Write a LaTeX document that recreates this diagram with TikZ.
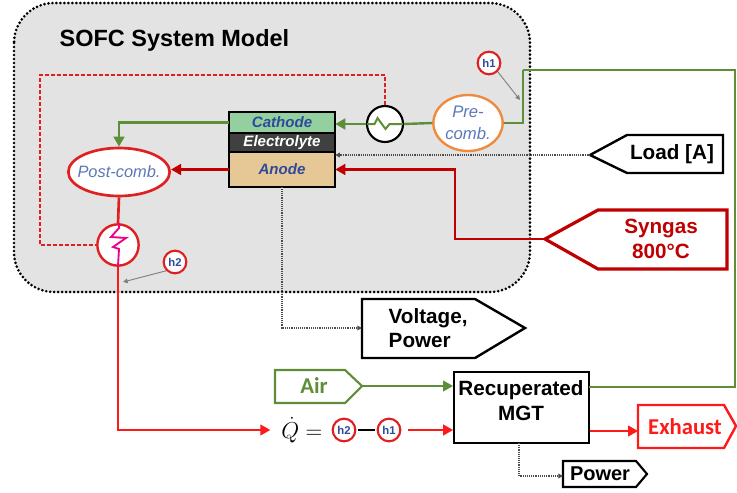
\documentclass[tikz,border=0pt]{standalone}
\usepackage{fontspec}
\setmainfont{Liberation Sans}
\newfontfamily\calib{Carlito}
\usetikzlibrary{arrows.meta,shapes.geometric}
\definecolor{sgreen}{HTML}{5E8F38}
\definecolor{dred}{HTML}{C00000}
\definecolor{bred}{HTML}{FF1A1A}
\definecolor{pred}{HTML}{E02020}
\definecolor{txtblue}{HTML}{2E4A9A}
\definecolor{ltblue}{HTML}{5A78B8}
\definecolor{sysgray}{HTML}{E3E3E3}
\definecolor{cathfill}{HTML}{93CF9F}
\definecolor{anodefill}{HTML}{E6C896}
\definecolor{elfill}{HTML}{404040}
\definecolor{orng}{HTML}{F08A3C}
\begin{document}
\begin{tikzpicture}[x=0.75pt,y=-0.75pt,
  font=\bfseries,
  tipA/.style={-{Triangle[length=7.5pt,width=8pt]}},
  tipS/.style={-{Triangle[length=3.5pt,width=3.5pt]}},
  grnline/.style={draw=sgreen,line width=1.8pt},
  grnthin/.style={draw=sgreen,line width=1.3pt},
  redline/.style={draw=dred,line width=2pt},
  brline/.style={draw=bred,line width=1.6pt},
  dotconn/.style={draw=black!70,line width=0.9pt,dash pattern=on 0.7pt off 0.7pt},
  gptr/.style={draw=black!50,line width=0.7pt,-{Triangle[length=3.5pt,width=3.5pt]}},
  hlab/.style={circle,draw=pred,line width=1.6pt,fill=white,inner sep=0pt,minimum size=17pt,
    font=\fontsize{8.5}{9}\selectfont\bfseries,text=txtblue},
  layer/.style={rectangle,minimum width=79.5pt,inner sep=0pt,
    font=\fontsize{11.3}{12}\selectfont\bfseries\itshape},
  boxtxt/.style={font=\fontsize{15.5}{18.5}\selectfont\bfseries,align=left}
]
\useasboundingbox (0,0) rectangle (737,492);
% system box
\draw[fill=sysgray,line width=2.2pt,line cap=round,dash pattern=on 0pt off 3pt,
  rounded corners=30pt] (14,3) rectangle (530,292);
\node[anchor=west,font=\fontsize{17.6}{20}\selectfont\bfseries] (title) at (55,40) {SOFC System Model};

% stack
\node[layer,fill=cathfill,minimum height=15.75pt,text=txtblue] (cath) at (282,122.5) {Cathode};
\node[layer,fill=elfill,minimum height=14.25pt,text=white] (elec) at (282,142.5) {Electrolyte};
\node[layer,fill=anodefill,minimum height=26.25pt,text=txtblue] (anode) at (282,169.5) {Anode};
\draw[line width=1.6pt] (cath.north west) rectangle (anode.south east);
\draw[line width=1.6pt] (cath.south west) -- (cath.south east);
\draw[line width=1.6pt] (elec.south west) -- (elec.south east);

% post-combustor
\node[ellipse,draw=pred,line width=2pt,fill=white,minimum width=76pt,minimum height=36pt,inner sep=0pt] (post) at (119,172) {};
\node[text=ltblue,font=\fontsize{12.3}{13}\selectfont\itshape] (postt) at (post.center) {Post-comb.};
% pre-combustor
\node[ellipse,draw=orng,line width=1.8pt,fill=white,minimum width=52pt,minimum height=42pt,inner sep=0pt] (pre) at (468,123) {};
\node[text=ltblue,align=center,inner sep=0pt,font=\fontsize{12.5}{16}\selectfont\itshape] (pret) at (pre.center) {Pre-\\comb.};

% heat exchangers
\node[circle,draw=black,line width=1.6pt,fill=white,minimum size=27pt,inner sep=0pt] (hx) at (385,124) {};
\node[circle,draw=pred,line width=1.8pt,fill=white,minimum size=31pt,inner sep=0pt] (hx2) at (118,245) {};

% red dashed loop
\draw[draw=pred,line width=1pt,dash pattern=on 3pt off 1.5pt] (hx.north) -- (385,75) -- (40,75) -- (40,245) -- (hx2.west);

% green flows
\coordinate (g1) at (523,70);
\coordinate (g2) at (735,70);
\coordinate (mgtG) at (589,387);
\draw[grnline] (pre.west) -- (hx.east);
\draw[grnline,tipA] (hx.west) -- (hx.west -| cath.east);
\draw[grnline,line width=1.5pt] ([xshift=-13.5pt]hx.center) -- ++(7.5,0) -- ++(3,-6) -- ++(8,11) -- ++(4,-5) -- ([xshift=13.5pt]hx.center);
\draw[grnline,tipA] (cath.west) -| (post.north);
\draw[grnline] (pre.east) -| (g1);
\draw[grnthin] (g1) -- (g2) |- (mgtG);

% red flows
\draw[redline,tipA] (anode.west) -- (anode.west -| post.east);
\draw[draw=pred,line width=2pt] (post.south) -- (hx2.north);
\draw[draw=magenta,line width=1.4pt] ([yshift=15.75pt]hx2.center) -- ++(1,0) -- ++(0,4) -- ++(-8,9) -- ++(15,1) -- ++(-13,9) -- ++(6,2) -- ([yshift=-15.75pt]hx2.center);

% h labels
\node[hlab] (h1a) at (489,63) {h1};
\coordinate (h1t) at (520,100);
\draw[gptr] (h1a.south east) -- (h1t);
\node[hlab] (h2a) at (175,262) {h2};
\coordinate (h2t) at (123,282);
\draw[gptr] (h2a.south west) -- (h2t);

% Load
\coordinate (loadtip) at (590,155);
\draw[line width=1.8pt,fill=white] (loadtip) -- (627,135) -- (723,135) -- (723,173) -- (627,173) -- cycle;
\node[boxtxt] (load) at (672,154) {Load [A]};
\draw[dotconn,tipS] (loadtip) -- (loadtip -| anode.east);

% Syngas
\coordinate (syntip) at (545,239);
\draw[draw=dred,line width=2.4pt,fill=white] (syntip) -- (598,210) -- (727,210) -- (727,269) -- (598,269) -- cycle;
\node[boxtxt,align=center,text=dred] (syn) at (661,239) {Syngas\\800°C};
\coordinate (sbend) at (455,239);
\draw[redline,tipA] (syntip) -- (sbend) |- (anode.east);

% Voltage
\coordinate (vleft) at (362,328);
\draw[line width=1.8pt,fill=white] (362,299) -- (475,299) -- (525,328) -- (475,358) -- (362,358) -- cycle;
\node[boxtxt,anchor=west] (volt) at (384,328) {Voltage,\\Power};
\draw[dotconn,tipS] (anode.south) |- (vleft);

% MGT
\node[rectangle,draw,line width=1.6pt,minimum width=101pt,minimum height=53pt,inner sep=0pt] (mgt) at (521.5,407.5) {};
\node[align=center,anchor=north,font=\fontsize{15.5}{18.5}\selectfont\bfseries] (mgtt) at (521,376) {Recuperated\\MGT};
\draw[grnthin] (mgtG) -- (mgt.east |- mgtG);

% Air
\coordinate (airtip) at (362,386);
\draw[draw=sgreen,line width=1.6pt,fill=white] (275,370) -- (345,370) -- (airtip) -- (345,403) -- (275,403) -- cycle;
\node[text=sgreen,font=\calib\fontsize{17}{18}\selectfont\bfseries] (air) at (314,386) {Air};
\draw[grnthin,tipA] (airtip) -- (airtip -| mgt.west);

% Q equation
\node[font=\fontsize{16}{18}\selectfont,anchor=west,inner sep=0pt] (qd) at (281,430) {$\dot{Q}=$};
\node[hlab] (h2q) at (344,430) {h2};
\node[hlab] (h1q) at (389,430) {h1};
\draw[line width=2pt] ([xshift=1.5pt]h2q.east) -- ([xshift=-1.5pt]h1q.west);
\draw[brline,tipA] (hx2.south) |- ([xshift=-8pt]qd.west);
\draw[brline,tipA] ([xshift=5pt]h1q.east) -- (h1q.east -| mgt.west);

% Exhaust
\coordinate (exl) at (638,431);
\draw[draw=bred,line width=1.8pt,fill=white] (638,405) -- (724,405) -- (736,426) -- (724,448) -- (638,448) -- cycle;
\node[text=bred,font=\calib\fontsize{17}{18}\selectfont\bfseries] (exh) at (685,427) {Exhaust};
\draw[brline,tipA] (mgt.east |- exl) -- (exl);

% Power
\coordinate (pwl) at (563,476);
\draw[line width=1.6pt,fill=white] (563,461) -- (636,461) -- (647,474) -- (636,487) -- (563,487) -- cycle;
\node[font=\fontsize{15}{16}\selectfont\bfseries] (pw) at (600,474) {Power};
\coordinate (mgtb) at (519,443);
\draw[dotconn,tipS] (mgtb) |- (pwl);
\end{tikzpicture}
\end{document}
